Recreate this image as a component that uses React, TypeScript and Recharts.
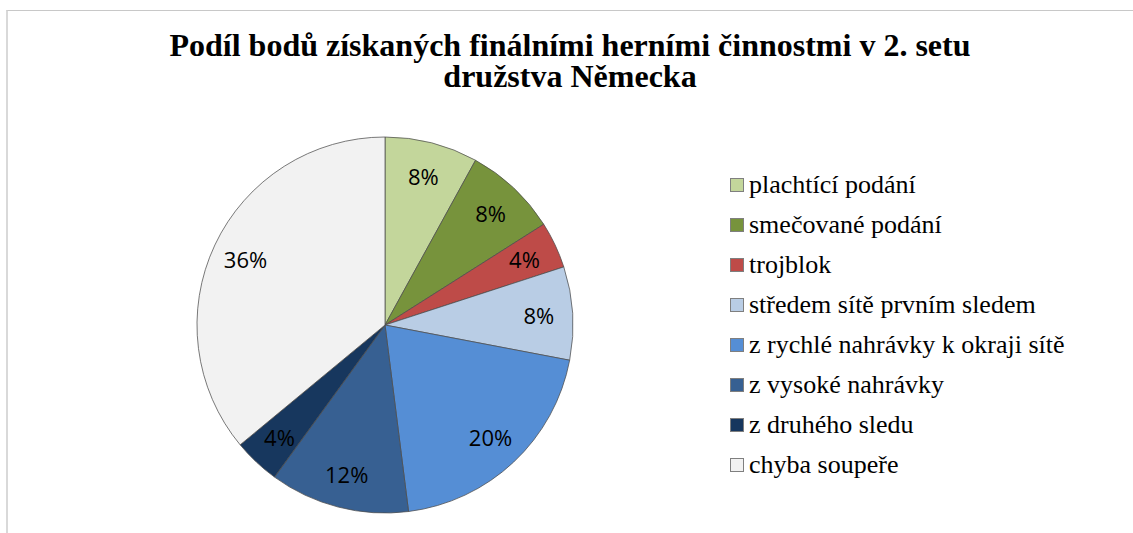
import React from 'react';
import { Pie, PieChart, Cell } from 'recharts';

const categories = [
    'plachtící podání',
    'smečované podání',
    'trojblok',
    'středem sítě prvním sledem',
    'z rychlé nahrávky k okraji sítě',
    'z vysoké nahrávky',
    'z druhého sledu',
    'chyba soupeře',
];

const shares = [8, 8, 4, 8, 20, 12, 4, 36];

const colors = ['#c3d69b', '#77933c', '#be4b48', '#b9cde5', '#558ed5', '#376092', '#17375e', '#f2f2f2'];

const titleLines = ['Podíl bodů získaných finálními herními činnostmi v 2. setu', 'družstva Německa'];

const data = categories.map((name, i) => ({ name, value: shares[i] }));

const RAD = Math.PI / 180;
const serif = '"Liberation Serif", "Times New Roman", Times, serif';

// popisky procent uvnitř výsečí
const renderLabel = (props: any) => {
    const { cx, cy, midAngle, outerRadius, value } = props;
    const r = outerRadius * 0.82;
    const x = cx + r * Math.cos(-midAngle * RAD);
    const y = cy + r * Math.sin(-midAngle * RAD);
    return (
        <text
            x={x}
            y={y}
            textAnchor="middle"
            dominantBaseline="central"
            fill="#000"
            style={{ fontFamily: '"Open Sans", sans-serif', fontSize: 22 }}
        >
            {value}%
        </text>
    );
};

export default function App() {
    return (
        <div style={{ position: 'absolute', left: 0, top: 0, width: 1133, height: 533, background: '#fff', overflow: 'hidden' }}>
            <div
                style={{
                    position: 'absolute',
                    left: 6,
                    top: 10,
                    width: 1200,
                    height: 600,
                    borderTop: '1px solid #c8c8c8',
                    borderLeft: '2px solid #d9d9d9',
                }}
            />
            {titleLines.map((t, i) => (
                <div
                    key={t}
                    style={{
                        position: 'absolute',
                        left: 70,
                        width: 1000,
                        top: 30 + i * 31,
                        height: 31,
                        textAlign: 'center',
                        fontFamily: serif,
                        fontWeight: 'bold',
                        fontSize: 32,
                        lineHeight: '31px',
                        color: '#000',
                        whiteSpace: 'nowrap',
                    }}
                >
                    {t}
                </div>
            ))}
            <PieChart width={1133} height={533} style={{ position: 'absolute', left: 0, top: 0 }}>
                <Pie
                    data={data}
                    dataKey="value"
                    nameKey="name"
                    cx={380}
                    cy={320}
                    outerRadius={188}
                    startAngle={90}
                    endAngle={-270}
                    stroke="#4d4d4d"
                    strokeWidth={0.75}
                    label={renderLabel}
                    labelLine={false}
                    isAnimationActive={false}
                >
                    {data.map((d, i) => (
                        <Cell key={d.name} fill={colors[i]} />
                    ))}
                </Pie>
            </PieChart>
            <div style={{ position: 'absolute', left: 730, top: 165, width: 400, fontFamily: serif, fontSize: 26, color: '#000' }}>
                {categories.map((name, i) => (
                    <div key={name} style={{ display: 'flex', alignItems: 'center', height: 40, whiteSpace: 'nowrap' }}>
                        <span
                            style={{
                                display: 'inline-block',
                                flex: 'none',
                                width: 12,
                                height: 12,
                                background: colors[i],
                                border: '1px solid #7f7f7f',
                                marginRight: 5,
                            }}
                        />
                        <span style={{ fontFamily: serif }}>{name}</span>
                    </div>
                ))}
            </div>
        </div>
    );
}
